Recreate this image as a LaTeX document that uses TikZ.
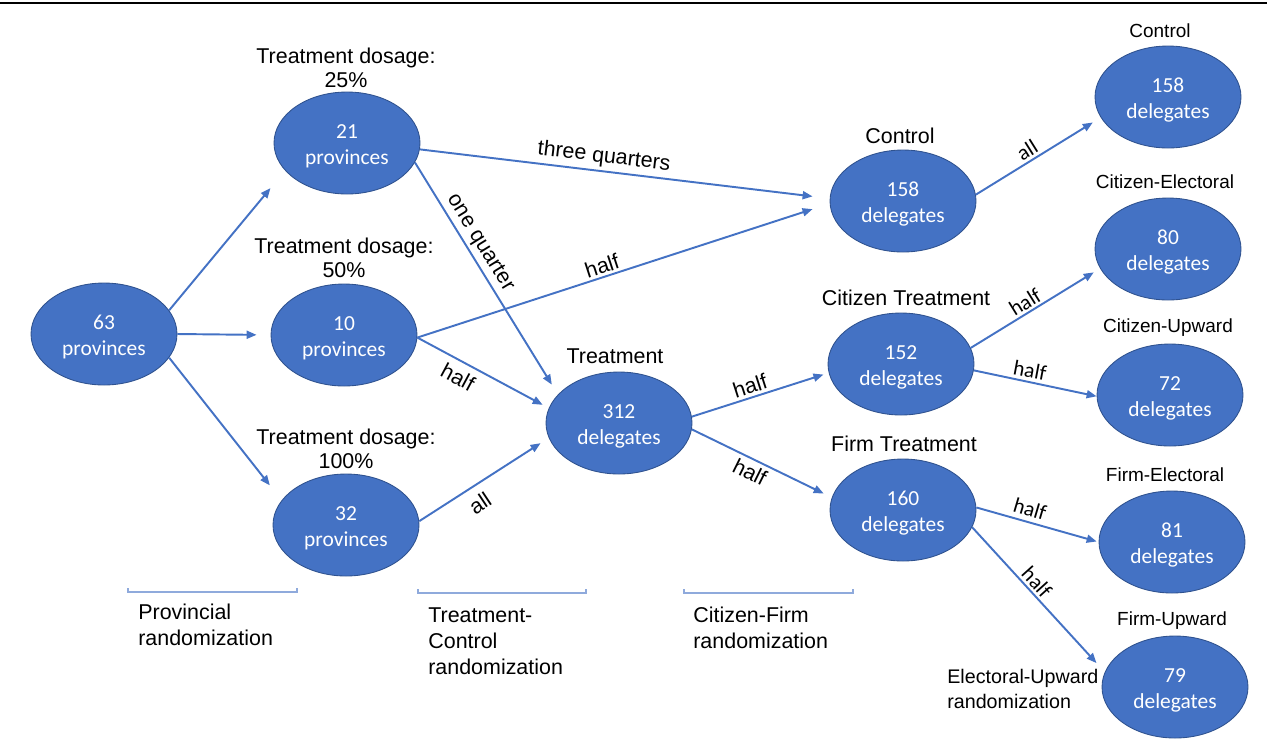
\documentclass[tikz,border=0pt]{standalone}
\usepackage{fontspec}
\setmainfont{Liberation Sans}
\newfontfamily\calib{Carlito}
\usetikzlibrary{shapes.geometric,arrows.meta}
\definecolor{nodeblue}{HTML}{4472C4}
\definecolor{nodeedge}{HTML}{2F528F}
\definecolor{brk}{HTML}{8FAADC}
\newcommand\twoline[2]{\begin{tabular}{@{}c@{}}\rule{0pt}{14pt}#1\\#2\end{tabular}}
\begin{document}
\begin{tikzpicture}[x=0.02cm,y=-0.02cm,
 group/.style={ellipse, fill=nodeblue, draw=nodeedge, line width=0.5pt, minimum width=2.92cm, minimum height=2.04cm, inner sep=0pt, text=white, font=\calib\fontsize{12.2}{14.7}\selectfont},
 title/.style={inner sep=0pt, align=center, font=\fontsize{12.2}{13.6}\selectfont},
 subtitle/.style={inner sep=0pt, align=center, font=\fontsize{10.8}{13}\selectfont},
 flow/.style={draw=nodeblue, line width=1.1pt, -{Triangle[length=0.2cm,width=0.16cm]}},
 lab/.style={inner sep=0pt, font=\fontsize{12.2}{14}\selectfont},
 rlab/.style={inner sep=0pt, font=\calib\fontsize{12.2}{14}\selectfont},
 stage/.style={inner sep=0pt, align=left, anchor=west, font=\fontsize{12.2}{14.7}\selectfont},
 bracket/.style={draw=brk, line width=0.6pt}]

\useasboundingbox (0,0) rectangle (1267,752);
\draw[line width=1.3pt] (0,3) -- (1267,3);

% ellipses
\node[group] (n63) at (104,334) {\twoline{63}{provinces}};
\node[group] (n21) at (347,143) {\twoline{21}{provinces}};
\node[group] (n10) at (344,335) {\twoline{10}{provinces}};
\node[group] (n32) at (346,525) {\twoline{32}{provinces}};
\node[group] (nT) at (619,423) {\twoline{312}{delegates}};
\node[group] (nC) at (903,201) {\twoline{158}{delegates}};
\node[group] (nCT) at (901,364) {\twoline{152}{delegates}};
\node[group] (nFT) at (903,510) {\twoline{160}{delegates}};
\node[group] (nC2) at (1168,97) {\twoline{158}{delegates}};
\node[group] (nCE) at (1168,249) {\twoline{80}{delegates}};
\node[group] (nCU) at (1170,395) {\twoline{72}{delegates}};
\node[group] (nFE) at (1172,542) {\twoline{81}{delegates}};
\node[group] (nFU) at (1175,687) {\twoline{79}{delegates}};

% titles
\node[title] (t25) at (346,68) {Treatment dosage:\\25\%};
\node[title] (t50) at (344,258) {Treatment dosage:\\50\%};
\node[title] (t100) at (346,449) {Treatment dosage:\\100\%};
\node[title] (tT) at (615,356) {Treatment};
\node[title] (tC) at (900,136) {Control};
\node[title] (tCT) at (906,298) {Citizen Treatment};
\node[title] (tFT) at (904,444) {Firm Treatment};
\node[subtitle] (tC2) at (1160,31) {Control};
\node[subtitle] (tCE) at (1165,182) {Citizen-Electoral};
\node[subtitle] (tCU) at (1168,328) {Citizen-Upward};
\node[subtitle] (tFE) at (1165,475) {Firm-Electoral};
\node[subtitle] (tFU) at (1172,621) {Firm-Upward};

% connectors
\draw[flow, shorten >=0.456cm] (n63.20) -- (n21.204);
\draw[flow, shorten >=0.28cm] (n63.0) -- (n10.180);
\draw[flow, shorten >=0.38cm] (n63.-20) -- (n32.159);
\draw[flow, shorten >=0.344cm] (n21.-5) -- (nC.178);
\draw[flow, shorten >=0.232cm] (n21.-16) -- (nT.155);
\draw[flow, shorten >=0.36cm] (n10.-2) -- (nC.182);
\draw[flow, shorten >=0.138cm] (n10.-2) -- (nT.168);
\draw[flow, shorten >=0.194cm] (n32.3) -- (nT.192);
\draw[flow, shorten >=0.11cm] (nT.5) -- (nCT.187);
\draw[flow, shorten >=0.18cm] (nT.-5) -- (nFT.170);
\draw[flow, shorten >=0.186cm] (nC.5) -- (nC2.197);
\draw[flow, shorten >=0.148cm] (nCT.13) -- (nCE.196);
\draw[flow] (nCT.-5) -- (nCU.181);
\draw[flow, shorten >=0.04cm] (nFT.2) -- (nFE.180);
\draw[flow, shorten >=0.244cm] (nFT.-14) -- (nFU.168);

% connector labels
\node[lab, rotate=-6.8] (l1) at (604,157) {three quarters};
\node[lab, rotate=-58.3] (l2) at (480,243) {one quarter};
\node[lab, rotate=18.1] (l3) at (602,266) {half};
\node[lab, rotate=-28.2] (l4) at (458,377) {half};
\node[lab, rotate=33.6] (l5) at (480,503) {all};
\node[lab, rotate=17.8] (l6) at (750,386) {half};
\node[lab, rotate=-26.4] (l7) at (750,472) {half};
\node[rlab, rotate=32] (l8) at (1027,150) {all};
\node[rlab, rotate=31.8] (l9) at (1025,302) {half};
\node[rlab, rotate=-10.7] (l10) at (1030,370) {half};
\node[rlab, rotate=-16.5] (l11) at (1030,509) {half};
\node[rlab, rotate=-47.9] (l12) at (1037,582) {half};

% brackets
\draw[bracket] (128,588) -- (128,592) -- (297,592) -- (297,588);
\draw[bracket] (418,589) -- (418,593) -- (586,593) -- (586,589);
\draw[bracket] (684,589) -- (684,593) -- (853,593) -- (853,589);

% stage labels
\node[stage] (s1) at (138,624.5) {Provincial\\randomization};
\node[stage] (s2) at (428,641) {Treatment-\\Control\\randomization};
\node[stage] (s3) at (693,628) {Citizen-Firm\\randomization};
\node[stage, font=\fontsize{11.2}{14.2}\selectfont] (s4) at (947,688.5) {Electoral-Upward\\randomization};
\end{tikzpicture}
\end{document}
